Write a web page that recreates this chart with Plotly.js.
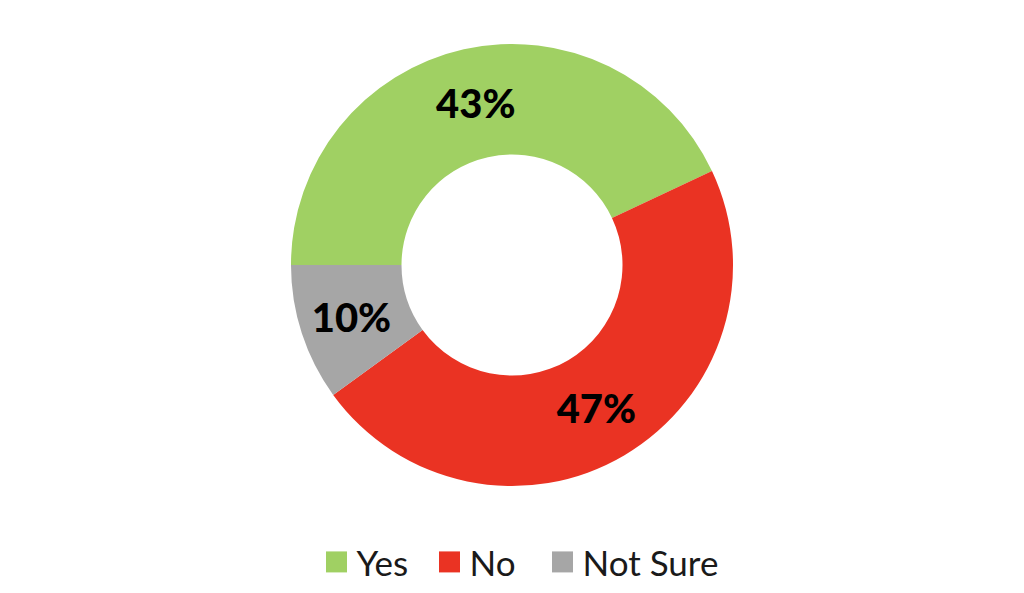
<!DOCTYPE html>
<html>
<head>
<meta charset="utf-8">
<script src="https://cdn.plot.ly/plotly-3.0.1.min.js"></script>
<style>html,body{margin:0;padding:0;background:#fff;} #chart{width:1024px;height:593px;}</style>
</head>
<body>
<div id="chart"></div>
<script>
const categories = ["Yes", "No", "Not Sure"];
const values = [43, 47, 10];
const textLabels = ["43%", "47%", "10%"];
const colors = ["#A0D063", "#EA3323", "#A6A6A6"];

const data = [{
  type: "pie",
  labels: categories,
  values: values,
  text: textLabels,
  textinfo: "text",
  textposition: "inside",
  insidetextorientation: "horizontal",
  hole: 0.5,
  sort: false,
  direction: "clockwise",
  rotation: 270,
  marker: { colors: colors, line: { width: 0 } },
  textfont: { family: "Lato, 'Open Sans', sans-serif", size: 40, color: "#000000", weight: 900 },
  domain: { x: [0, 1], y: [0.1804, 0.9258] },
  hoverinfo: "label+percent"
}];

const layout = {
  width: 1024,
  height: 593,
  margin: { l: 0, r: 0, t: 0, b: 0 },
  paper_bgcolor: "#ffffff",
  plot_bgcolor: "#ffffff",
  showlegend: true,
  uniformtext: { mode: "show", minsize: 40 },
  legend: {
    orientation: "h",
    x: 0.4746, xanchor: "center",
    y: 0.052, yanchor: "middle",
    font: { family: "Lato, 'Open Sans', sans-serif", size: 35, color: "#1a1a1a" },
    traceorder: "normal",
    entrywidth: 68,
    entrywidthmode: "pixels"
  }
};

Plotly.newPlot("chart", data, layout, { displayModeBar: false, staticPlot: true }).then(function () {
  document.querySelectorAll("#chart .legendpoints path").forEach(function (p) {
    const t = p.getAttribute("transform") || "";
    p.setAttribute("transform", t + " scale(1.75)");
  });
  document.querySelectorAll("#chart .legend [clip-path], #chart .legend[clip-path]").forEach(function (e) {
    e.removeAttribute("clip-path");
  });
});
</script>
</body>
</html>
